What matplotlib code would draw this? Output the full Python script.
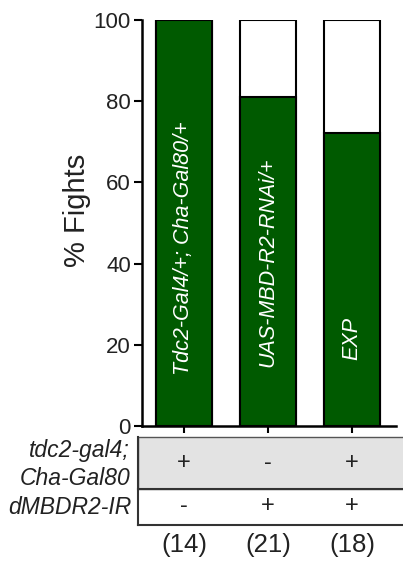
import matplotlib
matplotlib.use("Agg")
import matplotlib.pyplot as plt
from matplotlib.patches import Rectangle

plt.rcParams['font.family'] = ['Liberation Sans', 'DejaVu Sans']

# ---- data ----
genotypes = ["Tdc2-Gal4/+; Cha-Gal80/+", "UAS-MBD-R2-RNAi/+", "EXP"]
pct_fight = [100.0, 81.0, 72.2]
row_names = ["tdc2-gal4;\nCha-Gal80", "dMBDR2-IR"]
row1 = ["+", "-", "+"]
row2 = ["-", "+", "+"]
n_labels = ["(14)", "(21)", "(18)"]
yticks = [0, 20, 40, 60, 80, 100]

# ---- style ----
W, H = 403, 561
green = "#005a00"
txt = "#222222"
label_bottoms = [12.6, 14.5, 16.3]

fig = plt.figure(figsize=(W / 100, H / 100), dpi=100)

def fx(px):
    return px / W

def fy(py):
    return 1 - py / H

# main axes: x from 142 to 396, y from 20 to 426
ax = fig.add_axes([fx(142), fy(426), fx(396 - 142), (426 - 20) / H])
x = list(range(len(genotypes)))
bw = 0.667
ax.bar(x, [100] * len(x), width=bw, color="white", edgecolor="black", linewidth=1.5, zorder=2)
ax.bar(x, pct_fight, width=bw, color=green, edgecolor="black", linewidth=1.5, zorder=3)
for xi, g, b in zip(x, genotypes, label_bottoms):
    ax.text(xi, b, g, rotation=90, ha="center", va="bottom", color="white",
            fontstyle="italic", fontsize=15.5, zorder=4)

ax.set_xlim(-0.5, (396 - 184) / 84)
ax.set_ylim(0, 100)
ax.set_yticks(yticks)
ax.set_xticks(x)
ax.set_xticklabels([])
ax.tick_params(axis="y", labelsize=16, labelcolor=txt, width=1.5, length=6, direction="out", pad=2)
ax.tick_params(axis="x", width=1.5, length=5, direction="out")
for s in ["top", "right"]:
    ax.spines[s].set_visible(False)
for s in ["left", "bottom"]:
    ax.spines[s].set_linewidth(1.8)
fig.text(fx(77), fy(210), "% Fights", rotation=90, ha="center", va="center",
         fontsize=21, color=txt)

# table axes
x0 = -0.5 - 4 / 84
tab = fig.add_axes([fx(138), fy(525), fx(420 - 138), (525 - 437) / H])
tab.set_xlim(x0, x0 + (420 - 138) / 84)
tab.set_ylim(525, 437)
tab.axis("off")
tab.add_patch(Rectangle((x0, 437), 5, 52, facecolor="#e3e3e3",
                        edgecolor="#555555", linewidth=1.0, clip_on=False))
tab.plot([x0, 4], [489, 489], color="#333333", lw=1.5, clip_on=False)
tab.plot([x0, 4], [525, 525], color="#333333", lw=1.5, clip_on=False)
tab.plot([x0, x0], [437, 525], color="#333333", lw=1.5, clip_on=False)
for xi, a, b in zip(x, row1, row2):
    tab.text(xi, 463, a, ha="center", va="center", fontsize=17, color=txt)
    tab.text(xi, 506, b, ha="center", va="center", fontsize=17, color=txt)

fig.text(fx(130), fy(485), row_names[0], ha="right", va="baseline", fontsize=16.5,
         fontstyle="italic", color=txt, linespacing=1.3)
fig.text(fx(131), fy(507), row_names[1], ha="right", va="center", fontsize=16.5,
         fontstyle="italic", color=txt)
for xi, n in zip(x, n_labels):
    fig.text(fx(184 + 84 * xi), fy(545), n, ha="center", va="center", fontsize=18.5, color=txt)

fig.savefig("out.png", dpi=100)
